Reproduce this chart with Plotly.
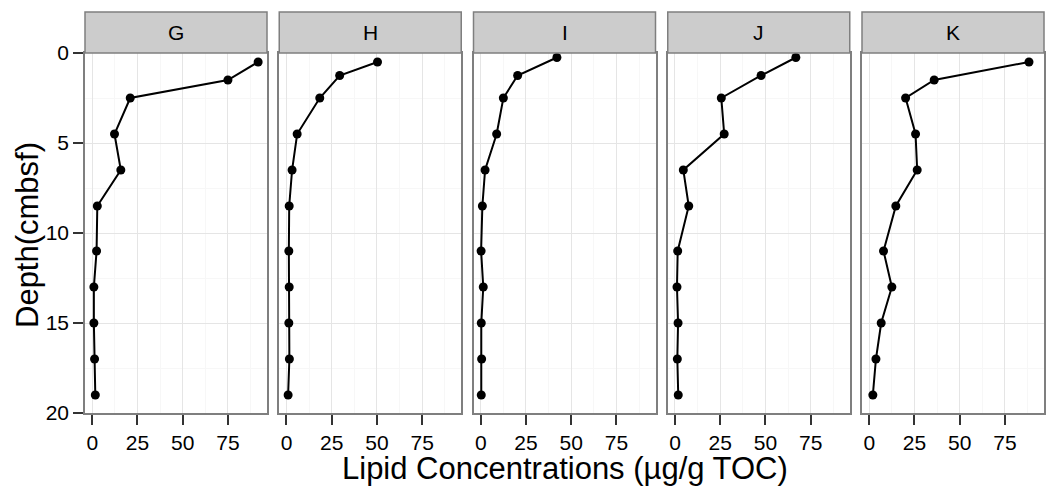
import plotly.graph_objects as go

# ---- data ----
sites = ["G", "H", "I", "J", "K"]

depth_G = [0.5, 1.5, 2.5, 4.5, 6.5, 8.5, 11, 13, 15, 17, 19]
conc_G = [91.7, 75.0, 21.0, 12.3, 15.8, 2.8, 2.4, 0.9, 0.9, 1.3, 1.7]

depth_H = [0.5, 1.25, 2.5, 4.5, 6.5, 8.5, 11, 13, 15, 17, 19]
conc_H = [50.3, 29.4, 18.4, 5.9, 3.1, 1.5, 1.3, 1.5, 1.3, 1.6, 0.9]

depth_I = [0.25, 1.25, 2.5, 4.5, 6.5, 8.5, 11, 13, 15, 17, 19]
conc_I = [42.1, 20.4, 12.5, 8.8, 2.4, 0.9, 0.2, 1.4, 0.3, 0.5, 0.3]

depth_J = [0.25, 1.25, 2.5, 4.5, 6.5, 8.5, 11, 13, 15, 17, 19]
conc_J = [66.8, 47.6, 25.6, 27.2, 4.6, 7.6, 1.5, 1.1, 1.7, 1.3, 1.8]

depth_K = [0.5, 1.5, 2.5, 4.5, 6.5, 8.5, 11, 13, 15, 17, 19]
conc_K = [88.3, 35.9, 20.1, 25.6, 26.5, 14.7, 7.9, 12.5, 6.6, 3.7, 2.0]

depths = [depth_G, depth_H, depth_I, depth_J, depth_K]
concs = [conc_G, conc_H, conc_I, conc_J, conc_K]

x_ticks = [0, 25, 50, 75]
y_ticks = [0, 5, 10, 15, 20]

# ---- layout geometry (pixels) ----
W, H = 1048, 487
FONT = "Liberation Sans, Arial, Helvetica, sans-serif"
panel_left = [85, 279.25, 473.5, 667.75, 862]
panel_w = 182
plot_top, plot_bot = 53, 413
strip_top = 12

def px_x(p):
    return p / W

def px_y(p):
    return (H - p) / H

fig = go.Figure()
layout = dict(
    width=W, height=H,
    margin=dict(l=0, r=0, t=0, b=0, autoexpand=False),
    paper_bgcolor="white", plot_bgcolor="white",
    showlegend=False,
    font=dict(family=FONT, color="black"),
    shapes=[], annotations=[],
)

for i, site in enumerate(sites):
    n = "" if i == 0 else str(i + 1)
    fig.add_trace(go.Scatter(
        x=concs[i], y=depths[i], mode="lines+markers",
        line=dict(color="black", width=2),
        marker=dict(color="black", size=9),
        xaxis="x" + n, yaxis="y" + n,
        hoverinfo="skip",
    ))
    x0 = panel_left[i]
    x1 = x0 + panel_w
    layout["xaxis" + n] = dict(
        domain=[px_x(x0), px_x(x1)], anchor="y" + n,
        range=[-4.0, 96.6], tickvals=x_ticks, ticks="outside",
        ticklen=10, tickwidth=2, tickcolor="#333333",
        showline=True, linecolor="#7F7F7F", linewidth=1.5, mirror=True,
        showgrid=True, gridcolor="#E5E5E5", gridwidth=1, zeroline=False,
        minor=dict(tickvals=[12.5, 37.5, 62.5, 87.5], showgrid=True,
                   gridcolor="#F7F7F7", gridwidth=1, ticks=""),
        tickfont=dict(size=21, family=FONT, color="black"),
        automargin=False, fixedrange=True,
    )
    layout["yaxis" + n] = dict(
        domain=[px_y(plot_bot), px_y(plot_top)], anchor="x" + n,
        range=[20, 0], tickvals=y_ticks,
        ticks="outside" if i == 0 else "", showticklabels=(i == 0),
        ticklen=10, tickwidth=2, tickcolor="#333333",
        showline=True, linecolor="#7F7F7F", linewidth=1.5, mirror=True,
        showgrid=True, gridcolor="#E5E5E5", gridwidth=1, zeroline=False,
        minor=dict(tickvals=[2.5, 7.5, 12.5, 17.5], showgrid=True,
                   gridcolor="#F7F7F7", gridwidth=1, ticks=""),
        tickfont=dict(size=21, family=FONT, color="black"),
        automargin=False, fixedrange=True,
    )
    # facet strip
    layout["shapes"].append(dict(
        type="rect", xref="paper", yref="paper",
        x0=px_x(x0), x1=px_x(x1), y0=px_y(plot_top), y1=px_y(strip_top),
        fillcolor="#CCCCCC", line=dict(color="#7F7F7F", width=1.5), layer="above",
    ))
    layout["annotations"].append(dict(
        text=site, xref="paper", yref="paper",
        x=px_x((x0 + x1) / 2), y=px_y((plot_top + strip_top) / 2),
        xanchor="center", yanchor="middle", showarrow=False,
        font=dict(size=21, family=FONT, color="black"),
    ))

# axis titles
layout["annotations"].append(dict(
    text="Lipid Concentrations (µg/g TOC)", xref="paper", yref="paper",
    x=px_x((85 + 1044) / 2), y=px_y(468), xanchor="center", yanchor="middle",
    showarrow=False, font=dict(size=31, family=FONT, color="black"),
))
layout["annotations"].append(dict(
    text="Depth(cmbsf)", xref="paper", yref="paper",
    x=px_x(27), y=px_y(235), xanchor="center", yanchor="middle",
    textangle=-90, showarrow=False, font=dict(size=31, family=FONT, color="black"),
))

fig.update_layout(**layout)
fig.write_html("out.html")
